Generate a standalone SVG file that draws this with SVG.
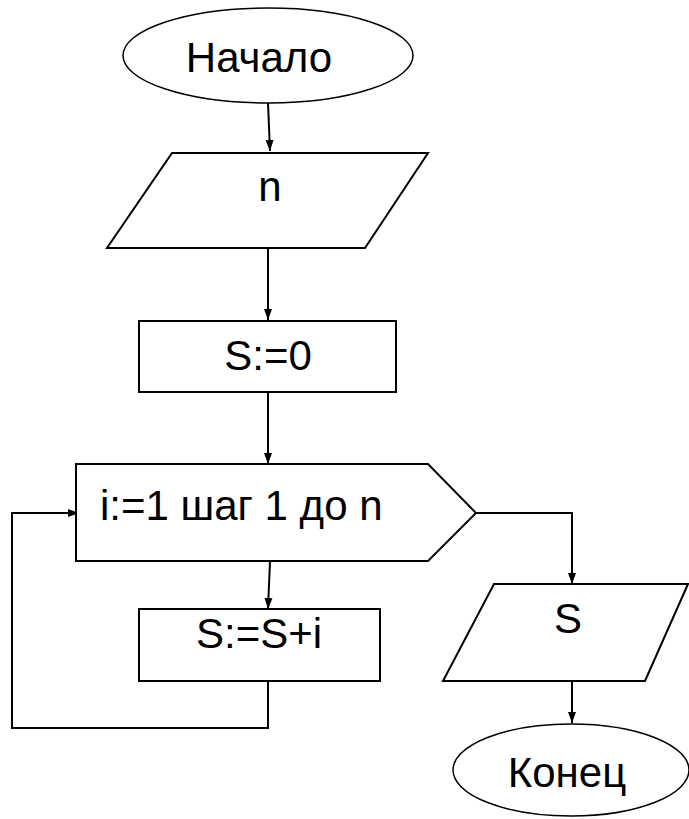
<svg xmlns="http://www.w3.org/2000/svg" width="689" height="819" viewBox="0 0 689 819">
<style>
.s{fill:#fff;stroke:#000;stroke-width:2}
.e{fill:#fff;stroke:#000;stroke-width:1.5}
.t{font-family:"Liberation Sans",Arial,sans-serif;font-size:42px;fill:#000;text-anchor:middle}
.c{fill:none;stroke:#000;stroke-width:2}
</style>
<defs>
<marker id="a" markerWidth="12" markerHeight="12" refX="11" refY="5" orient="auto" markerUnits="userSpaceOnUse">
<path d="M0,1 L11,5 L0,9 z" fill="#000"/>
</marker>
</defs>
<g id="connectors">
<path class="c" d="M268,103 L270,151" marker-end="url(#a)"/>
<path class="c" d="M268,248 L268,320" marker-end="url(#a)"/>
<path class="c" d="M268,392 L268,464" marker-end="url(#a)"/>
<path class="c" d="M270,561 L268,609" marker-end="url(#a)"/>
<path class="c" d="M268,681 L268,728 L12,728 L12,513 L79,513" marker-end="url(#a)"/>
<path class="c" d="M476,513 L572,513 L572,584" marker-end="url(#a)"/>
<path class="c" d="M572,681 L572,723" marker-end="url(#a)"/>
</g>
<g id="start">
<ellipse class="e" cx="268" cy="55.5" rx="145" ry="47.5"/>
<text class="t" x="259" y="72">Начало</text>
</g>
<g id="input">
<polygon class="s" points="172,153 428,153 365,248 107,248"/>
<text class="t" x="270" y="201">n</text>
</g>
<g id="init">
<rect class="s" x="139" y="321" width="257" height="71"/>
<text class="t" x="268" y="370">S:=0</text>
</g>
<g id="loop">
<polygon class="s" points="76,464 428,464 476,513 428,561 76,561"/>
<text class="t" x="100" y="520" style="text-anchor:start">i:=1 шаг 1 до n</text>
</g>
<g id="body">
<rect class="s" x="139" y="609" width="241" height="72"/>
<text class="t" x="259" y="648">S:=S+i</text>
</g>
<g id="output">
<polygon class="s" points="494,584 688,584 645,681 443,681"/>
<text class="t" x="568" y="633">S</text>
</g>
<g id="end">
<ellipse class="e" cx="571" cy="770" rx="118" ry="46"/>
<text class="t" x="567" y="787">Конец</text>
</g>
</svg>
